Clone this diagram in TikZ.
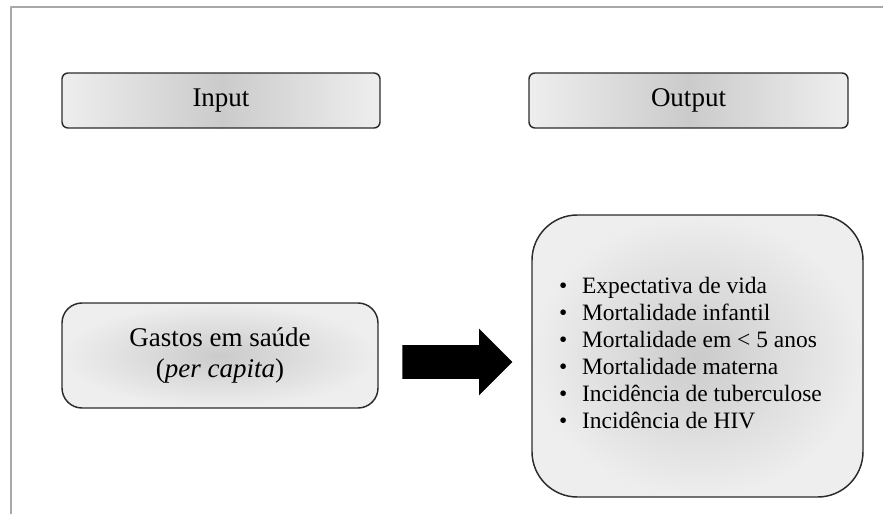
\documentclass[tikz,border=0pt]{standalone}
\usepackage{fontspec}
\setmainfont{Liberation Serif}
\usetikzlibrary{shapes.arrows}
\definecolor{framegray}{HTML}{A8A8A8}
\definecolor{boxlight}{HTML}{EEEEEE}
\definecolor{boxdark}{HTML}{CBCBCB}
\definecolor{boxline}{HTML}{2B2B2B}

\begin{document}
\begin{tikzpicture}[x=.75pt,y=-.75pt,line cap=round,line join=round,
  box/.style={draw=boxline,line width=1.1pt,inner sep=0pt,align=center},
  headbox/.style={box,rounded corners=4.5pt,minimum width=238.5pt,minimum height=41.25pt,
    left color=boxlight,right color=boxlight,middle color=boxdark,
    font=\fontsize{20.25pt}{23.3pt}\selectfont},
  roundbox/.style={box,inner color=boxdark,outer color=boxlight}]
  \path[use as bounding box] (0,0) rectangle (883,514);

  % The page frame is only visible on its top and left sides.
  \draw[framegray,line width=1.5pt,line cap=butt] (11,514) -- (11,7) -- (883,7);

  % Column headings.
  \node[headbox] (input) at (221,100.5) {Input};
  \node[headbox,minimum width=239.25pt] (output) at (688.5,100.5) {Output};

  % Spending on the left, the health indicators on the right.
  \node[roundbox,rounded corners=15pt,minimum width=237pt,minimum height=78.75pt,
    font=\fontsize{20.25pt}{23.3pt}\selectfont] (gastos) at (220,355.5)
    {Gastos em saúde\\(\textit{per capita})};
  \node[roundbox,rounded corners=34pt,minimum width=248.25pt,minimum height=211.5pt,
    font=\fontsize{17.6pt}{20.25pt}\selectfont] (lista) at (697.5,356)
    {\begin{tabular}{@{}l@{\hspace{11pt}}l@{}}
      • & Expectativa de vida\\
      • & Mortalidade infantil\\
      • & Mortalidade em < 5 anos\\
      • & Mortalidade materna\\
      • & Incidência de tuberculose\\
      • & Incidência de HIV
    \end{tabular}\hspace*{10.5pt}};

  \node[single arrow,fill=black,inner xsep=0pt,inner ysep=12.375pt,minimum height=82.5pt,
    single arrow head extend=12.375pt,anchor=tail] (seta) at (402,362) {};
\end{tikzpicture}
\end{document}
